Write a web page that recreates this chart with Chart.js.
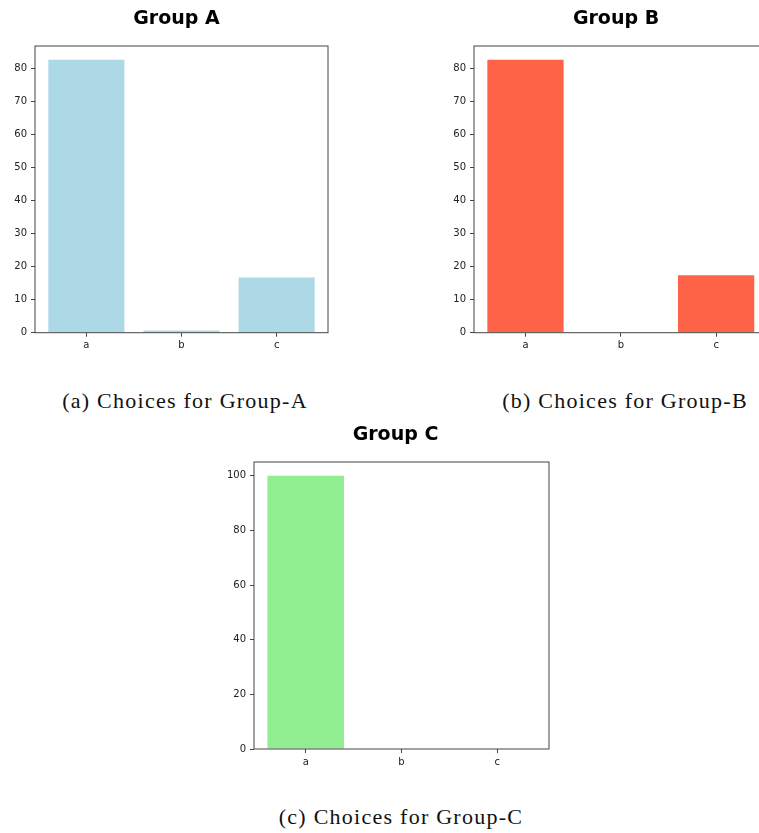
<!DOCTYPE html>
<html>
<head>
<meta charset="utf-8">
<script src="https://cdn.jsdelivr.net/npm/chart.js@4.4.1/dist/chart.umd.min.js"></script>
<style>
  html, body { margin: 0; padding: 0; background: #fff; }
  body { width: 759px; height: 833px; position: relative; overflow: hidden; }
  canvas { position: absolute; }
  .caption {
    position: absolute; width: 300px; text-align: center;
    font-family: "Liberation Serif", serif; font-size: 22px; letter-spacing: 1.25px;
    line-height: 24px; color: #111; white-space: nowrap;
  }
</style>
</head>
<body>
<canvas id="chartA" width="353" height="360" style="left:0px;top:0px"></canvas>
<canvas id="chartB" width="354" height="360" style="left:439.3px;top:0px"></canvas>
<canvas id="chartC" width="353" height="360" style="left:219.3px;top:416px"></canvas>
<div class="caption" style="left:35px;top:389px">(a) Choices for Group-A</div>
<div class="caption" style="left:475px;top:389px">(b) Choices for Group-B</div>
<div class="caption" style="left:251px;top:805px">(c) Choices for Group-C</div>
<script>
// Answer shares (percent) per choice for each group
const categories = ['a', 'b', 'c'];
const groupA = [82.6, 0.7, 16.7];
const groupB = [82.6, 0, 17.4];
const groupC = [100, 0, 0];

// y tick values for each panel
const ticksAB = [0, 10, 20, 30, 40, 50, 60, 70, 80];
const ticksC = [0, 20, 40, 60, 80, 100];

Chart.defaults.font.family = '"DejaVu Sans", sans-serif';
Chart.defaults.color = '#222';

// draws the four-sided axes frame
const framePlugin = {
  id: 'frame',
  afterDatasetsDraw(chart) {
    const { ctx, chartArea: a } = chart;
    ctx.save();
    ctx.strokeStyle = '#444';
    ctx.lineWidth = 1;
    ctx.strokeRect(a.left, a.top, a.right - a.left, a.bottom - a.top);
    ctx.restore();
  }
};

function makePanel(id, title, values, color, yTicks, rightSpace, xHeight) {
  const yMax = Math.max(...values) * 1.05;
  const n = categories.length;
  const xMargin = 0.05 * (n - 1 + 0.8);
  new Chart(document.getElementById(id), {
    type: 'bar',
    data: {
      datasets: [{
        data: categories.map((c, i) => ({ x: i, y: values[i] })),
        backgroundColor: color,
        borderWidth: 0,
        barPercentage: 0.8,
        categoryPercentage: 1.0
      }]
    },
    options: {
      responsive: false,
      animation: false,
      devicePixelRatio: 1,
      layout: { padding: 0 },
      plugins: {
        legend: { display: false },
        tooltip: { enabled: false },
        title: {
          display: true,
          text: title,
          color: '#000',
          font: { size: 19, weight: 'bold', family: '"DejaVu Sans", sans-serif' },
          padding: { top: 7.4, bottom: 15.8 }
        }
      },
      scales: {
        x: {
          type: 'linear',
          offset: false,
          min: -0.4 - xMargin,
          max: n - 1 + 0.4 + xMargin,
          border: { display: false },
          grid: { offset: false, drawOnChartArea: false, drawTicks: true, tickLength: 4, tickColor: '#444' },
          ticks: {
            font: { size: 10 },
            padding: 3,
            maxRotation: 0,
            callback: (v) => categories[v]
          },
          afterBuildTicks: (s) => { s.ticks = categories.map((c, i) => ({ value: i })); },
          afterFit: (s) => { s.height = xHeight; }
        },
        y: {
          min: 0,
          max: yMax,
          border: { display: false },
          grid: { drawOnChartArea: false, drawTicks: true, tickLength: 4, tickColor: '#444' },
          ticks: { font: { size: 10 }, padding: 4 },
          afterBuildTicks: (s) => { s.ticks = yTicks.map(v => ({ value: v })); },
          afterFit: (s) => { s.width = 35; }
        },
        // empty right-hand margin so the title centres over the plot
        yRight: {
          position: 'right',
          display: true,
          min: 0,
          max: 1,
          border: { display: false },
          grid: { display: false },
          ticks: { display: false },
          afterFit: (s) => { s.width = rightSpace; }
        }
      }
    },
    plugins: [framePlugin]
  });
}

makePanel('chartA', 'Group A', groupA, '#ADD8E6', ticksAB, 25, 27.3);
makePanel('chartB', 'Group B', groupB, '#FF6347', ticksAB, 25.4, 27.3);
makePanel('chartC', 'Group C', groupC, '#90EE90', ticksC, 23, 27);
</script>
</body>
</html>
